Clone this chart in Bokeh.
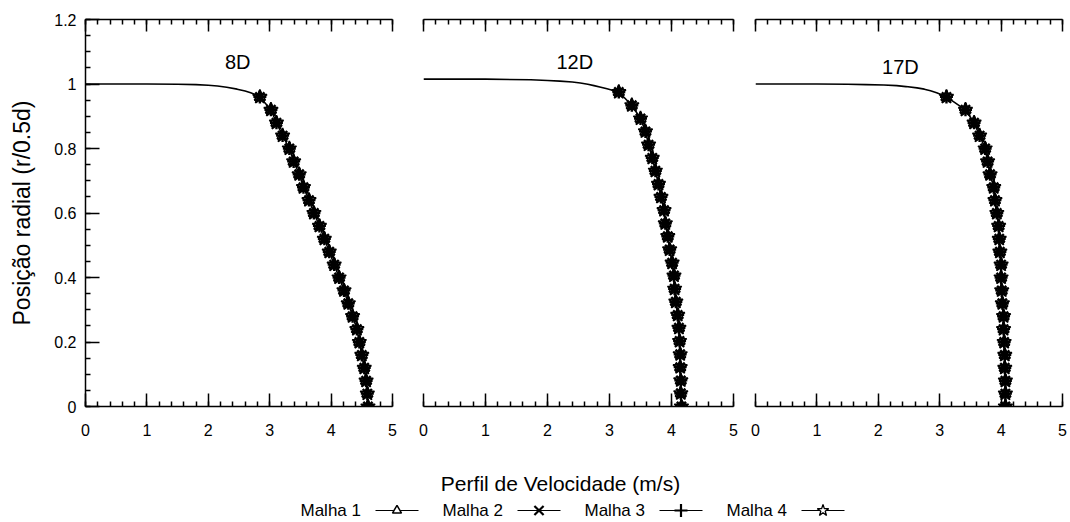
from bokeh.plotting import figure
from bokeh.layouts import row, column
from bokeh.models import Range1d, LinearAxis, FixedTicker, CustomJSTickFormatter
from bokeh.embed import file_html
from bokeh.resources import INLINE
from bokeh.core.properties import value

FONT = "Liberation Sans"

# Measurement stations (distance downstream, in diameters)
stations = ["8D", "12D", "17D"]
meshes = ["Malha 1", "Malha 2", "Malha 3", "Malha 4"]

# Mesh-node radial positions r/0.5d and axial velocity (m/s)
r_8d = [0.96, 0.92, 0.88, 0.84, 0.80, 0.76, 0.72, 0.68, 0.64, 0.60, 0.56, 0.52, 0.48,
        0.44, 0.40, 0.36, 0.32, 0.28, 0.24, 0.20, 0.16, 0.12, 0.08, 0.04, 0.00]
u_8d = [2.84, 3.02, 3.11, 3.21, 3.32, 3.39, 3.48, 3.55, 3.64, 3.72, 3.81, 3.89, 3.97,
        4.05, 4.13, 4.21, 4.28, 4.35, 4.42, 4.46, 4.50, 4.54, 4.57, 4.59, 4.60]

r_12d = [0.975, 0.934, 0.893, 0.853, 0.812, 0.771, 0.731, 0.690, 0.650, 0.609, 0.568, 0.528, 0.487,
         0.446, 0.406, 0.365, 0.325, 0.284, 0.244, 0.203, 0.162, 0.122, 0.081, 0.041, 0.000]
u_12d = [3.15, 3.36, 3.50, 3.58, 3.63, 3.69, 3.74, 3.79, 3.83, 3.88, 3.90, 3.94, 3.97,
         4.01, 4.04, 4.05, 4.07, 4.10, 4.12, 4.13, 4.14, 4.14, 4.15, 4.15, 4.16]

r_17d = [0.96, 0.92, 0.88, 0.84, 0.80, 0.76, 0.72, 0.68, 0.64, 0.60, 0.56, 0.52, 0.48,
         0.44, 0.40, 0.36, 0.32, 0.28, 0.24, 0.20, 0.16, 0.12, 0.08, 0.04, 0.00]
u_17d = [3.11, 3.42, 3.56, 3.65, 3.74, 3.78, 3.82, 3.88, 3.90, 3.93, 3.96, 3.97, 3.98,
         4.00, 4.00, 4.01, 4.02, 4.04, 4.04, 4.05, 4.06, 4.06, 4.07, 4.07, 4.07]

# Continuous profile near the wall (before the first mesh node)
wall_u_8d = [0.0, 1.0, 1.5, 1.8, 2.0, 2.15, 2.3, 2.47, 2.6, 2.69, 2.77]
wall_r_8d = [1.0, 1.0, 0.999, 0.998, 0.996, 0.994, 0.990, 0.984, 0.978, 0.973, 0.967]
wall_u_12d = [0.0, 1.0, 1.73, 2.0, 2.2, 2.4, 2.53, 2.65, 2.75, 2.86, 2.96, 3.06]
wall_r_12d = [1.015, 1.015, 1.013, 1.011, 1.009, 1.006, 1.003, 0.999, 0.995, 0.990, 0.985, 0.980]
wall_u_17d = [0.0, 1.0, 1.5, 1.8, 2.09, 2.3, 2.45, 2.63, 2.75, 2.85, 2.95, 3.03]
wall_r_17d = [1.0, 1.0, 0.999, 0.998, 0.997, 0.995, 0.992, 0.988, 0.984, 0.979, 0.973, 0.967]

# Station label anchor (data units)
label_x = [2.48, 2.44, 2.36]
label_y = [1.067, 1.067, 1.054]

x_ticks = [0, 1, 2, 3, 4, 5]
x_minor = [0, 0.2, 0.4, 0.6, 0.8, 1, 1.2, 1.4, 1.6, 1.8, 2, 2.2, 2.4, 2.6, 2.8, 3,
           3.2, 3.4, 3.6, 3.8, 4, 4.2, 4.4, 4.6, 4.8, 5]
y_ticks = [0, 0.2, 0.4, 0.6, 0.8, 1.0, 1.2]
y_minor = [0, 0.05, 0.1, 0.15, 0.2, 0.25, 0.3, 0.35, 0.4, 0.45, 0.5, 0.55, 0.6, 0.65,
           0.7, 0.75, 0.8, 0.85, 0.9, 0.95, 1.0, 1.05, 1.1, 1.15, 1.2]

profiles = [
    (u_8d, r_8d, wall_u_8d, wall_r_8d),
    (u_12d, r_12d, wall_u_12d, wall_r_12d),
    (u_17d, r_17d, wall_u_17d, wall_r_17d),
]


def style_axis(ax, ticks, minor, labels=True):
    ax.ticker = FixedTicker(ticks=ticks, minor_ticks=minor)
    ax.axis_line_color = "black"
    ax.axis_line_width = 1.5
    ax.major_tick_line_color = "black"
    ax.major_tick_line_width = 1.5
    ax.minor_tick_line_color = "black"
    ax.minor_tick_line_width = 1.5
    ax.major_tick_out = 0
    ax.minor_tick_out = 0
    if labels:
        ax.formatter = CustomJSTickFormatter(code="return tick.toString();")
        ax.major_label_text_font = FONT
        ax.major_label_text_font_size = "16px"
        ax.major_label_text_color = "black"
    else:
        ax.formatter = CustomJSTickFormatter(code="return '';")
        ax.major_label_text_font_size = "0px"
        ax.major_label_standoff = 0


# (width, left border, right border) per panel
geom = [(407, 85, 15), (337, 16, 11), (326, 11, 8)]

panels = []
for i, (st, (u, r, wu, wr), (w, bl, br)) in enumerate(zip(stations, profiles, geom)):
    p = figure(width=w, height=440, output_backend="svg", toolbar_location=None,
               x_range=Range1d(0, 5), y_range=Range1d(0, 1.2),
               y_axis_location="left" if i == 0 else None,
               min_border_left=bl, min_border_right=br,
               min_border_top=19, min_border_bottom=34)
    p.outline_line_color = None
    p.xgrid.visible = False
    p.ygrid.visible = False
    p.background_fill_color = "white"
    p.border_fill_color = "white"

    bottom = p.xaxis[0]
    style_axis(bottom, x_ticks, x_minor)
    bottom.major_tick_in = 13
    bottom.minor_tick_in = 5
    bottom.major_label_standoff = 17

    top = LinearAxis()
    style_axis(top, x_ticks, x_minor, labels=False)
    top.major_tick_in = 12
    top.minor_tick_in = 5
    p.add_layout(top, "above")

    if i == 0:
        left = p.yaxis[0]
        style_axis(left, y_ticks, y_minor)
        left.major_tick_in = 14
        left.minor_tick_in = 5
        left.major_label_standoff = 9
        left.axis_label = "Posição radial (r/0.5d)"
        left.axis_label_text_font = FONT
        left.axis_label_text_font_size = "23px"
        left.axis_label_text_font_style = "normal"
        left.axis_label_text_color = "black"
        left.axis_label_standoff = 16

    # full profile line: wall region followed by the mesh nodes
    p.line(wu + u, wr + r, line_color="black", line_width=1.6)

    # four meshes overlap at the same nodes
    p.scatter(u, r, marker="triangle", size=11, fill_color=None, line_color="black", line_width=1.6)
    p.scatter(u, r, marker="x", size=13, line_color="black", line_width=2.4)
    p.scatter(u, r, marker="cross", size=13, line_color="black", line_width=2.4)
    p.scatter(u, r, marker="star", size=15, fill_color=None, line_color="black", line_width=1.6)

    p.text(x=[label_x[i]], y=[label_y[i]], text=[st], text_font=value(FONT),
           text_font_size="20px", text_align="center", text_baseline="middle",
           text_color="black")
    panels.append(p)

# Shared axis title and legend strip
leg = figure(width=1070, height=82, output_backend="svg", toolbar_location=None,
             x_range=Range1d(0, 1070), y_range=Range1d(82, 0),
             x_axis_location=None, y_axis_location=None,
             min_border=0, min_border_left=0, min_border_right=0,
             min_border_top=0, min_border_bottom=0)
leg.outline_line_color = None
leg.xgrid.visible = False
leg.ygrid.visible = False

leg.text(x=[560], y=[43], text=["Perfil de Velocidade (m/s)"], text_font=value(FONT),
         text_font_size="21px", text_align="center", text_baseline="middle", text_color="black")

leg_markers = [("triangle", 9, 1.5), ("x", 13, 2.2), ("cross", 13, 2.2), ("star", 12, 1.3)]
x0 = 300
step = 142
ly = 70
for k, (name, (mk, sz, lw)) in enumerate(zip(meshes, leg_markers)):
    tx = x0 + k * step
    leg.text(x=[tx], y=[ly], text=[name], text_font=value(FONT), text_font_size="17px",
             text_align="left", text_baseline="middle", text_color="black")
    leg.line([tx + 75, tx + 118], [ly, ly], line_color="black", line_width=1.2)
    leg.scatter([tx + 96.5], [ly], marker=mk, size=sz, fill_color="white",
                line_color="black", line_width=lw)

layout = column(row(*panels, spacing=0), leg, spacing=0)

open("out.html", "w").write(file_html(layout, INLINE))
